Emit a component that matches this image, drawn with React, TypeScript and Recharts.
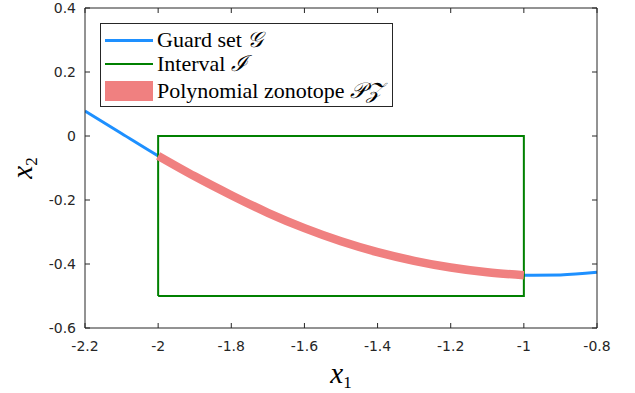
import React from 'react';
import { ComposedChart, Line, XAxis, YAxis, Legend } from 'recharts';

const guardX = [-2.2, -2.1, -2.0, -1.9, -1.8, -1.7, -1.6, -1.5, -1.4, -1.3, -1.2, -1.1, -1.0, -0.9, -0.8];
const guardY = [0.078, 0.008, -0.062, -0.126, -0.185, -0.24, -0.288, -0.329, -0.363, -0.39, -0.411, -0.426, -0.435, -0.434, -0.426];
const pzX = [-2.0, -1.9, -1.8, -1.7, -1.6, -1.5, -1.4, -1.3, -1.2, -1.1, -1.0];
const pzY = [-0.062, -0.126, -0.185, -0.24, -0.288, -0.329, -0.363, -0.39, -0.411, -0.426, -0.435];
const boxX = [-2, -2, -1, -1, -2];
const boxY = [-0.5, 0, 0, -0.5, -0.5];
const xTicks = [-2.2, -2, -1.8, -1.6, -1.4, -1.2, -1, -0.8];
const yTicks = [-0.6, -0.4, -0.2, 0, 0.2, 0.4];
const xTickLabels = ['-2.2', '-2', '-1.8', '-1.6', '-1.4', '-1.2', '-1', '-0.8'];
const yTickLabels = ['-0.6', '-0.4', '-0.2', '0', '0.2', '0.4'];

const guardData = guardX.map((x, i) => ({ x, y: guardY[i] }));
const pzData = pzX.map((x, i) => ({ x, y: pzY[i] }));
const boxData = boxX.map((x, i) => ({ x, y: boxY[i] }));

const AX = '#262626';
const TICK = 5;
const tickFont = { fontFamily: 'DejaVu Sans', fontSize: 14, fill: AX };

const BottomTick = (p: any) => {
  const i = xTicks.findIndex((t) => Math.abs(t - p.payload.value) < 1e-9);
  return (
    <g>
      <line x1={p.x} x2={p.x} y1={p.y} y2={p.y - TICK} stroke={AX} strokeWidth={1} />
      <text x={p.x} y={p.y + 23} textAnchor="middle" {...tickFont}>{xTickLabels[i]}</text>
    </g>
  );
};
const TopTick = (p: any) => (
  <line x1={p.x} x2={p.x} y1={p.y} y2={p.y + TICK} stroke={AX} strokeWidth={1} />
);
const LeftTick = (p: any) => {
  const i = yTicks.findIndex((t) => Math.abs(t - p.payload.value) < 1e-9);
  return (
    <g>
      <line x1={p.x} x2={p.x + TICK} y1={p.y} y2={p.y} stroke={AX} strokeWidth={1} />
      <text x={p.x - 9} y={p.y + 5} textAnchor="end" {...tickFont}>{yTickLabels[i]}</text>
    </g>
  );
};
const RightTick = (p: any) => (
  <line x1={p.x} x2={p.x - TICK} y1={p.y} y2={p.y} stroke={AX} strokeWidth={1} />
);

const legendItems = [
  { name: 'Guard set ', sym: '𝒢', color: '#1E90FF', h: 3 },
  { name: 'Interval ', sym: 'ℐ', color: '#008000', h: 2 },
  { name: 'Polynomial zonotope ', sym: '𝒫𝒵', color: '#F08080', h: 20 },
];

const renderLegend = () => (
  <div
    style={{
      width: 291,
      height: 82,
      border: `1px solid ${AX}`,
      background: '#fff',
      boxSizing: 'content-box',
      position: 'relative',
    }}
  >
    {legendItems.map((it, i) => {
      const cy = [16, 40, 67][i];
      return (
        <React.Fragment key={it.name}>
          <div
            style={{
              position: 'absolute',
              left: 4,
              top: cy - it.h / 2,
              width: 48,
              height: it.h,
              background: it.color,
            }}
          />
          <div
            style={{
              position: 'absolute',
              left: 56,
              top: cy - 14,
              lineHeight: '28px',
              fontFamily: 'Liberation Serif',
              fontSize: 22,
              color: '#000',
              whiteSpace: 'pre',
            }}
          >
            {it.name}
            <span style={{ fontStyle: 'italic' }}>{it.sym}</span>
          </div>
        </React.Fragment>
      );
    })}
  </div>
);

export default function App() {
  return (
    <div style={{ position: 'absolute', left: 0, top: 0, width: 635, height: 393, background: '#fff' }}>
      <ComposedChart
        width={635}
        height={393}
        margin={{ top: 0, right: 0, bottom: 0, left: 0 }}
      >
        <XAxis
          xAxisId={0}
          dataKey="x"
          type="number"
          domain={[-2.2, -0.8]}
          ticks={xTicks}
          allowDataOverflow
          height={65}
          tickSize={0}
          tickMargin={0}
          tickLine={false}
          axisLine={{ stroke: AX, strokeWidth: 1 }}
          tick={<BottomTick />}
          interval={0}
        />
        <XAxis
          xAxisId="top"
          orientation="top"
          dataKey="x"
          type="number"
          domain={[-2.2, -0.8]}
          ticks={xTicks}
          allowDataOverflow
          height={8}
          tickSize={0}
          tickMargin={0}
          tickLine={false}
          axisLine={{ stroke: AX, strokeWidth: 1 }}
          tick={<TopTick />}
          interval={0}
        />
        <YAxis
          yAxisId={0}
          type="number"
          domain={[-0.6, 0.4]}
          ticks={yTicks}
          allowDataOverflow
          width={85}
          tickSize={0}
          tickMargin={0}
          tickLine={false}
          axisLine={{ stroke: AX, strokeWidth: 1 }}
          tick={<LeftTick />}
          interval={0}
        />
        <YAxis
          yAxisId="right"
          orientation="right"
          type="number"
          domain={[-0.6, 0.4]}
          ticks={yTicks}
          allowDataOverflow
          width={38}
          tickSize={0}
          tickMargin={0}
          tickLine={false}
          axisLine={{ stroke: AX, strokeWidth: 1 }}
          tick={<RightTick />}
          interval={0}
        />
        <Line
          data={guardData}
          dataKey="y"
          type="monotone"
          stroke="#1E90FF"
          strokeWidth={3}
          dot={false}
          isAnimationActive={false}
        />
        <Line
          data={boxData}
          dataKey="y"
          type="linear"
          stroke="#008000"
          strokeWidth={2}
          dot={false}
          isAnimationActive={false}
        />
        <Line
          data={pzData}
          dataKey="y"
          type="monotone"
          stroke="#F08080"
          strokeWidth={8.5}
          dot={false}
          isAnimationActive={false}
        />
        <Legend
          layout="vertical"
          align="center"
          verticalAlign="middle"
          content={renderLegend}
          wrapperStyle={{ position: 'absolute', left: 100, top: 23, width: 293, height: 84 }}
        />
        <text x={341} y={383} textAnchor="middle" fontFamily="Liberation Serif" fill="#000">
          <tspan fontStyle="italic" fontSize={29}>x</tspan>
          <tspan fontSize={17} dy={5}>1</tspan>
        </text>
        <g transform="translate(32,168) rotate(-90)">
          <text x={0} y={0} textAnchor="middle" fontFamily="Liberation Serif" fill="#000">
            <tspan fontStyle="italic" fontSize={29}>x</tspan>
            <tspan fontSize={17} dy={5}>2</tspan>
          </text>
        </g>
      </ComposedChart>
    </div>
  );
}
